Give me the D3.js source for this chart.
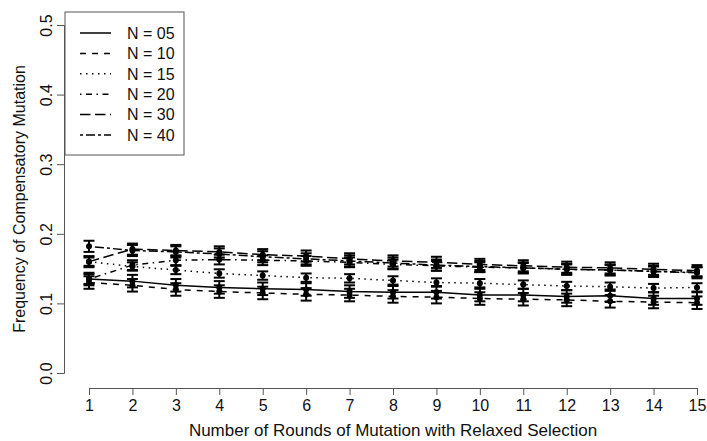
<!DOCTYPE html>
<html><head><meta charset="utf-8">
<script src="https://cdn.jsdelivr.net/npm/d3@7/dist/d3.min.js"></script>
<style>body{margin:0;background:#fff}svg{display:block}text{font-family:"Liberation Sans",Arial,sans-serif}</style>
</head><body>
<script>
const rounds = [1,2,3,4,5,6,7,8,9,10,11,12,13,14,15];
const seriesNames = ["N = 05","N = 10","N = 15","N = 20","N = 30","N = 40"];
const n05 = [0.135,0.132,0.126,0.123,0.121,0.120,0.117,0.116,0.116,0.112,0.112,0.110,0.111,0.107,0.107];
const n10 = [0.130,0.126,0.120,0.117,0.115,0.113,0.112,0.110,0.109,0.107,0.106,0.105,0.103,0.102,0.101];
const n15 = [0.160,0.153,0.148,0.143,0.140,0.137,0.136,0.133,0.130,0.129,0.127,0.125,0.124,0.122,0.123];
const n20 = [0.135,0.155,0.162,0.163,0.162,0.161,0.159,0.156,0.154,0.152,0.151,0.149,0.148,0.146,0.145];
const n30 = [0.160,0.178,0.176,0.174,0.170,0.168,0.164,0.161,0.159,0.156,0.154,0.152,0.151,0.149,0.147];
const n40 = [0.182,0.176,0.174,0.171,0.167,0.164,0.161,0.158,0.155,0.153,0.151,0.149,0.148,0.146,0.144];
const errs = [0.009,0.009,0.006,0.007,0.008,0.008];
const yTicks = [0.0,0.1,0.2,0.3,0.4,0.5];
const dashes = [null,"6,6","1.5,4.5","1.5,4.5,6,4.5","10.5,4.5","3,3,9,3"];
const values = [n05,n10,n15,n20,n30,n40];

const W=707,H=441;
const svg=d3.select("body").append("svg").attr("width",W).attr("height",H);
const x=d3.scaleLinear().domain([1,15]).range([89,697]);
const y=d3.scaleLinear().domain([0,0.5]).range([373,25]);
const axCol="#555";
const txtCol="#111";

// y axis
const ya=svg.append("g").attr("transform","translate(64,0)")
  .call(d3.axisLeft(y).tickValues(yTicks).tickSize(7));
ya.select(".domain").attr("stroke",axCol);
ya.selectAll(".tick line").attr("stroke",axCol);
ya.selectAll(".tick text").remove();
ya.selectAll(".tick").append("text").attr("fill",txtCol).attr("font-size",16)
  .attr("text-anchor","middle").attr("transform","translate(-12,0) rotate(-90)").text(d=>d3.format(".1f")(d));

// x axis
const xa=svg.append("g").attr("transform","translate(0,388)")
  .call(d3.axisBottom(x).tickValues(rounds).tickFormat(d3.format("d")).tickSize(7).tickPadding(5));
xa.select(".domain").attr("stroke",axCol);
xa.selectAll(".tick line").attr("stroke",axCol);
xa.selectAll(".tick text").attr("font-size",16).attr("fill",txtCol);

svg.append("text").attr("x",393).attr("y",436).attr("text-anchor","middle").attr("font-size",17).attr("fill",txtCol)
  .text("Number of Rounds of Mutation with Relaxed Selection");
svg.append("text").attr("transform","translate(25,199) rotate(-90)").attr("text-anchor","middle").attr("font-size",16).attr("fill",txtCol)
  .text("Frequency of Compensatory Mutation");

// lines
const line=d3.line().x((d,i)=>x(rounds[i])).y(d=>y(d));
values.forEach((v,k)=>{
  svg.append("path").datum(v).attr("d",line).attr("fill","none").attr("stroke","#000")
    .attr("stroke-width",1.5).attr("stroke-dasharray",dashes[k]);
});
// error bars and points
values.forEach((v,k)=>{
  const g=svg.append("g");
  v.forEach((val,i)=>{
    const cx=x(rounds[i]);
    const lo=y(val-errs[k]), hi=y(val+errs[k]);
    g.append("line").attr("x1",cx).attr("x2",cx).attr("y1",lo).attr("y2",hi).attr("stroke","#000").attr("stroke-width",2);
    g.append("line").attr("x1",cx-5.5).attr("x2",cx+5.5).attr("y1",lo).attr("y2",lo).attr("stroke","#000").attr("stroke-width",2);
    g.append("line").attr("x1",cx-5.5).attr("x2",cx+5.5).attr("y1",hi).attr("y2",hi).attr("stroke","#000").attr("stroke-width",2);
    g.append("circle").attr("cx",cx).attr("cy",y(val)).attr("r",3).attr("fill","#000");
  });
});

// legend
const lg=svg.append("g");
lg.append("rect").attr("x",65).attr("y",12).attr("width",119).attr("height",143).attr("fill","#fff").attr("stroke",axCol);
seriesNames.forEach((s,k)=>{
  const yy=33+k*20.4;
  lg.append("line").attr("x1",80).attr("x2",111).attr("y1",yy).attr("y2",yy).attr("stroke","#000").attr("stroke-width",1.5).attr("stroke-dasharray",dashes[k]);
  lg.append("text").attr("x",127).attr("y",yy).attr("dy","0.36em").attr("font-size",16).attr("fill",txtCol).text(s);
});
</script>
</body></html>
